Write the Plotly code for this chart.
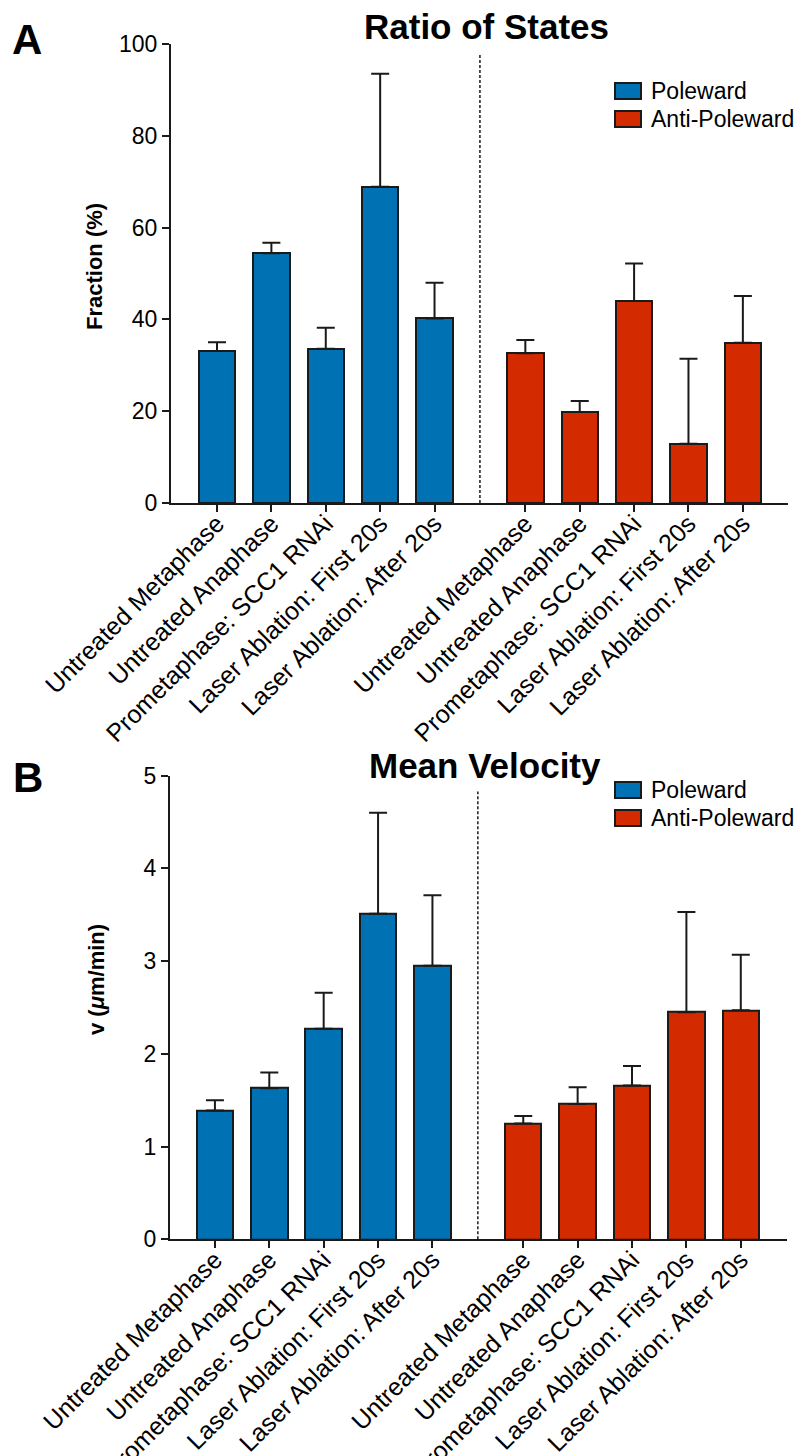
import plotly.graph_objects as go

# ---------------- data ----------------
categories = ["Untreated Metaphase", "Untreated Anaphase", "Prometaphase: SCC1 RNAi",
              "Laser Ablation: First 20s", "Laser Ablation: After 20s"]
series_names = ["Poleward", "Anti-Poleward"]

ratio_pole = [33.1, 54.4, 33.6, 68.9, 40.2]
ratio_pole_err = [1.9, 2.3, 4.6, 24.6, 7.8]
ratio_anti = [32.6, 19.8, 44.0, 12.9, 34.9]
ratio_anti_err = [2.9, 2.4, 8.2, 18.5, 10.2]

vel_pole = [1.39, 1.63, 2.27, 3.51, 2.95]
vel_pole_err = [0.11, 0.17, 0.39, 1.09, 0.76]
vel_anti = [1.25, 1.46, 1.66, 2.45, 2.47]
vel_anti_err = [0.08, 0.18, 0.21, 1.08, 0.60]

ratio_ticks = [0, 20, 40, 60, 80, 100]
vel_ticks = [0, 1, 2, 3, 4, 5]

# ---------------- style ----------------
OFF = 8                      # page body margin
W, H = 803 - OFF, 1456 - OFF
BLUE = "#0071B3"
RED = "#D42A00"
INK = "#1a1a1a"
FONT = "Liberation Sans, Arial, Helvetica, sans-serif"
GAP = 1.67
BAR_W = 0.67

n = len(categories)
x_pole = list(range(n))
x_anti = [i + n - 1 + GAP for i in range(n)]
x_div = (x_pole[-1] + x_anti[0]) / 2


def px(x):
    return (x - OFF) / W


def py(y):
    return 1 - (y - OFF) / H


fig = go.Figure()


def add_bars(xa, ya, vals_p, err_p, vals_a, err_a):
    for xs, vals, errs, col in ((x_pole, vals_p, err_p, BLUE), (x_anti, vals_a, err_a, RED)):
        fig.add_trace(go.Bar(
            x=xs, y=vals, width=BAR_W, xaxis=xa, yaxis=ya,
            marker=dict(color=col, line=dict(color=INK, width=2)),
            error_y=dict(type="data", array=errs, arrayminus=[0] * len(errs),
                         symmetric=False, color=INK, thickness=2, width=9),
            showlegend=False, hoverinfo="y",
        ))


add_bars("x", "y", ratio_pole, ratio_pole_err, ratio_anti, ratio_anti_err)
add_bars("x2", "y2", vel_pole, vel_pole_err, vel_anti, vel_anti_err)

tickvals = x_pole + x_anti
ticktext = categories + categories

xcommon = dict(tickvals=tickvals, ticktext=ticktext, tickangle=-45, showline=True,
               linecolor=INK, linewidth=2, ticks="outside", ticklen=7, tickwidth=2,
               tickcolor=INK, showgrid=False, zeroline=False, automargin=False,
               ticklabelstandoff=-13,
               tickfont=dict(family=FONT, size=25, color="black"))
ycommon = dict(showline=True, linecolor=INK, linewidth=2, ticks="outside", ticklen=7,
               tickwidth=2, tickcolor=INK, showgrid=False, zeroline=False, automargin=False,
               tickfont=dict(family=FONT, size=23, color="black"))

fig.update_layout(
    template="none",
    width=W, height=H, margin=dict(l=0, r=0, t=0, b=0, pad=0),
    paper_bgcolor="white", plot_bgcolor="white", bargap=0,
    font=dict(family=FONT, color="black"),
    xaxis=dict(domain=[px(171), px(788)], range=[-0.846, 10.5], anchor="y", **xcommon),
    yaxis=dict(domain=[py(503), py(44)], range=[0, 100], tickvals=ratio_ticks, anchor="x", **ycommon),
    xaxis2=dict(domain=[px(170), px(787)], range=[-0.826, 10.52], anchor="y2", **xcommon),
    yaxis2=dict(domain=[py(1239.3), py(775.7)], range=[0, 5], tickvals=vel_ticks, anchor="x2", **ycommon),
)

# divider dashed lines
fig.add_shape(type="line", xref="x", yref="y", x0=x_div, x1=x_div, y0=0, y1=97.6,
              line=dict(color=INK, width=1.5, dash="3px,2px"))
fig.add_shape(type="line", xref="x2", yref="y2", x0=x_div, x1=x_div, y0=0, y1=4.83,
              line=dict(color=INK, width=1.5, dash="3px,2px"))

# titles, panel letters, axis titles
ann = []
ann.append(dict(text="<b>Ratio of States</b>", x=px(486), y=py(26), font=dict(size=35)))
ann.append(dict(text="<b>Mean Velocity</b>", x=px(485), y=py(765), font=dict(size=35)))
ann.append(dict(text="<b>A</b>", x=px(27), y=py(39), font=dict(size=42)))
ann.append(dict(text="<b>B</b>", x=px(27.5), y=py(777), font=dict(size=42)))
ann.append(dict(text="<b>Fraction (%)</b>", x=px(94), y=py(267), textangle=-90, font=dict(size=22)))
ann.append(dict(text="<b>v (<i>μ</i>m/min)</b>", x=px(96), y=py(980), textangle=-90, font=dict(size=22)))

# manual legends
legend_rows = [(91, 119), (790, 818)]
for rows in legend_rows:
    for yy, name, col in zip(rows, series_names, (BLUE, RED)):
        fig.add_shape(type="rect", xref="paper", yref="paper",
                      x0=px(615), x1=px(641), y0=py(yy + 8), y1=py(yy - 8),
                      fillcolor=col, line=dict(color=INK, width=2))
        ann.append(dict(text=name, x=px(649), y=py(yy), xanchor="left", font=dict(size=23)))

for a in ann:
    a.setdefault("xanchor", "center")
    a.update(xref="paper", yref="paper", yanchor="middle", showarrow=False)
    a["font"] = dict(family=FONT, color="black", **a["font"])
    fig.add_annotation(**a)

fig.write_html("out.html")
